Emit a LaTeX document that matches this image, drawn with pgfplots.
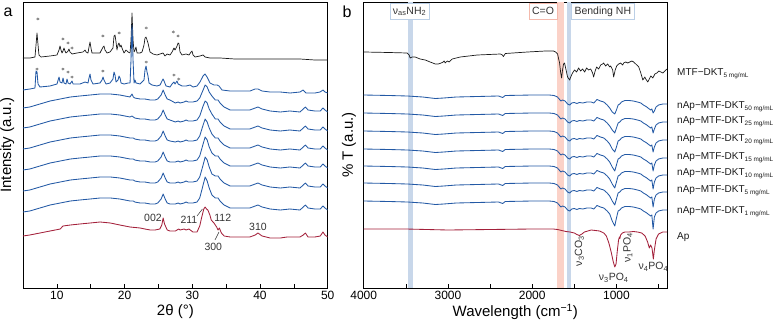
\documentclass[border=0pt]{standalone}
\usepackage{fontspec}
\setmainfont{Liberation Sans}
\usepackage{pgfplots}
\usepackage{pgfplotstable}
\pgfplotsset{compat=1.18}

\definecolor{mtfblack}{HTML}{1A1A1A}
\definecolor{nblue}{HTML}{2359A5}
\definecolor{apred}{HTML}{A3203A}
\definecolor{annot}{HTML}{333333}
\definecolor{stargray}{HTML}{7F7F7F}
\definecolor{bandblue}{HTML}{C8D7EA}
\definecolor{bandred}{HTML}{FBD2C8}
\definecolor{boxblue}{HTML}{BBCFE6}
\definecolor{boxred}{HTML}{F4B9AC}

% ---------- XRD patterns (2theta, intensity in a.u. incl. stacking offset) ----------
\pgfplotstableread{
tt I
5.00 230
6.03 230
6.77 231
6.92 243
7.07 255
7.22 243
7.36 233
7.66 231
8.99 232
10.02 233
10.32 238
10.47 242
10.61 238
10.76 235
10.91 237
11.06 240
11.20 237
11.35 235
11.65 237
11.79 239
11.94 236
12.24 234
12.98 235
13.86 236
14.16 238
14.31 236
14.60 235
14.75 241
14.90 246
15.04 240
15.19 235
15.93 235
16.37 235
16.67 239
16.82 241
16.96 242
17.11 238
17.41 235
17.85 236
18.29 240
18.44 252
18.59 253
18.74 246
18.88 238
19.03 243
19.18 245
19.33 241
19.48 243
19.62 240
19.92 235
20.21 238
20.51 236
20.81 235
20.95 248
21.10 275
21.25 248
21.40 236
21.54 238
21.69 241
21.84 235
22.28 235
22.58 236
22.87 243
23.02 250
23.17 251
23.32 248
23.46 245
23.76 236
24.20 234
24.79 233
25.24 234
25.68 235
25.97 232
26.27 234
26.71 233
27.01 236
27.30 240
27.45 238
27.75 242
27.90 245
28.04 244
28.19 236
28.49 233
29.08 234
29.52 233
29.82 236
29.96 237
30.11 233
30.41 231
31.14 232
31.59 233
31.88 231
32.62 230
34.10 230
36.30 229
38.50 229
40.70 229
43.00 229
45.90 229
48.10 228
50.00 228
}\xrdmtf

\pgfplotstableread{
tt I
5.00 198
6.03 199
6.77 200
6.92 217
7.07 216
7.22 204
7.51 201
8.99 202
10.02 204
10.32 211
10.47 206
10.76 205
10.91 210
11.06 205
11.35 204
11.50 209
11.65 205
11.94 204
12.24 207
12.39 204
13.42 204
14.16 206
14.60 205
14.75 210
14.90 214
15.04 208
15.34 204
16.37 205
16.67 208
16.82 211
16.96 208
17.26 204
17.85 205
18.29 209
18.44 216
18.59 213
18.74 206
19.03 208
19.18 212
19.33 210
19.48 205
19.92 204
20.51 205
20.81 205
20.95 228
21.10 263
21.25 228
21.40 205
21.54 208
21.69 205
22.28 204
22.87 208
23.02 218
23.17 222
23.32 216
23.46 212
23.61 205
24.05 203
24.79 202
25.24 203
25.53 207
25.68 209
25.83 207
26.12 202
26.71 201
27.01 204
27.30 206
27.45 204
27.75 207
27.90 204
28.49 202
29.08 202
29.67 203
30.11 201
30.70 202
31.14 206
31.59 212
31.88 214
32.18 211
32.62 205
33.21 203
33.66 203
33.95 202
34.39 198
35.58 197
37.05 197
38.53 197
39.27 199
39.71 199
40.30 197
41.48 196
42.96 196
44.44 195
45.92 196
46.36 198
46.80 195
48.13 195
48.87 196
49.31 198
49.60 196
50.00 195
}\xrdfifty

\pgfplotstableread{
tt c25 c20 c15 c10 c5 c1
5.0  180 160 139 118 97 76
6.0  181 161 140 119 98 77
7.5  184 164 143 122 101 80
9.0  187 167 146 125 104 83
10.5 189 169 148 127 106 85
12.0 191 171 150 129 108 87
13.4 192 172 151 130 109 88
14.9 193 173 152 131 110 89
16.4 194 174 153 132 111 90
17.9 194 174 153 132 111 90
19.3 193 173 152 131 110 89
20.8 191 171 150 129 108 87
21.1 194 172 150 129 108 87
21.3 191 171 150 129 108 87
21.5 190 170 149 128 107 86
22.3 189 169 148 127 106 85
23.0 189 169 148 127 106 85
23.8 188 168 147 126 105 84
24.5 188 168 147 126 105 84
24.9 189 169 148 127 106 85
25.4 193 173 152 131 110 89
25.7 198 178 157 136 115 94
26.0 193 173 152 131 110 89
26.3 189 169 148 127 106 85
26.7 188 168 147 126 105 84
27.5 185 166 146 126 105 84
27.9 186 167 147 127 106 85
28.2 185 166 146 126 105 84
28.8 186 167 147 127 106 85
29.1 187 168 148 128 107 86
29.4 186 167 147 127 106 85
30.1 186 167 147 127 106 85
30.7 187 168 148 128 107 86
31.1 190 172 152 132 111 90
31.6 198 182 163 144 123 103
31.9 203 187 169 151 131 111
32.2 201 185 166 148 128 107
32.5 196 179 160 141 121 100
32.9 192 174 154 135 114 93
33.4 188 169 150 132 112 90
33.8 188 169 150 132 112 90
34.1 185 166 147 129 109 87
34.7 181 162 143 125 105 83
35.6 178 159 140 122 102 80
37.0 178 159 140 122 102 80
38.5 178 159 140 122 102 80
39.3 180 161 142 124 104 82
39.7 181 162 143 125 105 83
40.3 179 160 141 123 103 81
41.5 177 158 139 121 101 79
43.0 176 157 138 120 100 78
44.4 177 158 139 121 101 79
45.9 176 157 138 120 100 78
46.4 179 160 141 123 103 81
46.7 181 162 143 125 105 83
47.1 178 159 140 122 102 80
48.1 177 158 139 121 101 79
48.9 177 158 139 121 101 79
49.3 180 161 142 124 104 82
49.6 178 159 140 122 102 80
50.0 176 157 138 120 100 78
}\xrdnap

\pgfplotstableread{
tt I
5.0 52
6.0 53
7.5 55
9.0 57
10.5 59
10.9 62
12.0 63
13.4 64
14.9 65
16.4 66
17.9 65
19.3 63
20.8 61
22.3 60
23.0 59
23.8 58
24.5 58
25.2 59
25.5 63
25.7 70
25.9 64
26.3 58
26.7 57
27.5 57
28.0 59
28.2 58
28.8 59
29.1 58
29.5 59
30.1 56
30.7 56
31.1 62
31.4 71
31.7 79
31.9 81
32.1 79
32.3 78
32.6 73
32.8 68
33.2 65
33.6 61
33.8 58
34.0 60
34.3 55
34.7 52
35.6 51
37.0 51
38.5 51
39.3 53
39.7 55
40.3 52
41.5 50
43.0 50
44.0 51
45.9 51
46.4 53
46.7 55
47.1 51
48.1 51
48.9 52
49.3 56
49.6 53
50.0 51
}\xrdap

% reflections of the organic phase (marked with asterisks)
\pgfplotstableread{
tt I
7.20 269
10.90 249
11.65 245
12.24 240
16.80 252
19.20 255
23.20 260
27.20 256
27.90 252
7.07 219
10.90 219
11.65 216
12.24 211
16.80 217
23.20 226
27.30 213
28.00 209
}\xrdstars

% ---------- FTIR spectra (wavenumber, transmittance in a.u. incl. offset) ----------
\pgfplotstableread{
w T
4000 236
3700 235.5
3485 235
3460 233
3449 230
3425 231
3390 231
3330 229
3270 228
3211 226
3150 224
3116 224
3080 225
3056 226
3045 227
3033 225
3008 227
2985 226
2949 229
2854 231
2651 233
2378 234
2354 233
2342 231.5
2318 234.5
2056 236
1842 237
1747 237
1723 236
1699 234
1675 225
1663 216
1651 210
1640 218
1628 224
1616 225
1598 218
1580 211
1556 208
1538 212
1521 215
1497 218
1473 216
1449 220
1425 217
1402 219
1378 216
1354 220
1330 218
1306 219
1283 215
1271 211
1253 217
1235 221
1211 219
1187 223
1164 224
1152 225
1128 222
1104 224
1080 221
1068 222
1045 218
1033 211
1015 218
997 222
973 224
949 225
926 223
914 225
890 226
866 225
842 226
818 227
795 226
771 224
735 221
711 215
687 208
663 211
652 209
628 206
604 210
592 212
568 210
544 214
521 215
497 217
473 216
449 215
425 217
401 219
}\irmtf

\pgfplotstableread{
w c50 c25 c20 c15 c10 c5 c1
4000 193 175 157 139 122 105 87
3700 192.5 174.5 156.5 138.5 121.5 104.5 86.5
3480 192 174 156 138 121 104 86
3300 191 173 155 137 120 103 85
3150 189.5 171.5 153.5 135.5 118.5 101.5 83.5
3050 190 172 154 136 119 102 84
2900 191 173 155 137 120 103 85
2650 191.5 173.5 155.5 137.5 120.5 103.5 85.5
2400 192 174 156 138 121 104 86
2350 190.5 172.5 154.5 136.5 119.5 102.5 84.5
2320 192.5 174.5 156.5 138.5 121.5 104.5 86.5
2000 193 175 157 139 122 105 87
1800 193 175 157 139 122 105 87
1740 192.5 174.5 156.5 138.5 121.5 104.5 86.5
1700 191 173 155 137 120 103 85
1660 187 169 151 133 116 99 81
1640 188 170 152 134 117 100 82
1610 187 169 151 133 116 99 81
1580 184 166 148 130 113 96 78
1555 183 165 147 129 112 95 77
1530 185 167 149 131 114 97 79
1500 185.5 167.5 149.5 131.5 114.5 97.5 79.5
1470 184.5 166.5 148.5 130.5 113.5 96.5 78.5
1440 185.5 167.5 149.5 131.5 114.5 97.5 79.5
1400 185 167 149 131 114 97 79
1350 186 168 150 132 115 98 80
1300 186 168 150 132 115 98 80
1270 185 167 149 131 114 97 79
1230 188.5 170.5 152.5 134.5 117.5 100.5 82.5
1190 187 169 151 133 116 99 81
1150 186 168 150 132 115 98 80
1110 183 165 147 129 112 95 77
1080 180 162 144 126 109 92 74
1050 176 158 139 121 104 87 67
1020 174 155 136 117 100 83 62
1000 178 160 141 123 106 89 70
980 183 165 147 129 112 95 77
960 184 166 148 130 113 96 78
940 186 168 150 132 115 98 80
900 187.5 169.5 151.5 133.5 116.5 99.5 81.5
850 187.5 169.5 151.5 133.5 116.5 99.5 81.5
800 187 169 151 133 116 99 81
750 186 168 150 132 115 98 80
711 185 167 149 131 114 97 79
680 183 165 147 129 112 95 77
640 181 163 145 127 110 93 75
610 179 161 143 125 108 91 73
595 178 160 142 124 107 90 72
580 179 161 143 125 108 91 73
565 175 155 136 117 99 81 59
550 177 159 141 123 106 89 71
530 181 163 145 127 110 93 75
500 183 165 147 129 112 95 77
450 184 166 148 130 113 96 78
400 184 166 148 130 113 96 78
}\irnap

\pgfplotstableread{
w T
4000 59
3500 59
3000 58
2500 58.5
2000 59
1750 59
1700 58.5
1650 57.5
1600 56.5
1550 56
1500 55
1470 53.5
1440 52.5
1410 54
1380 56
1340 57
1300 58
1250 57.5
1200 57
1150 55
1120 52
1090 45
1060 35
1040 27
1020 21
1005 24
990 37
975 48
965 51
960 49.5
950 53
930 55
900 56
850 56
800 56.5
750 56
700 55
660 52
630 46
610 40
595 43
578 40
562 29
550 38
530 49
500 54
450 56
400 56
}\irap

% absorption bands highlighted in the FTIR panel
\pgfplotstableread{
w T
3480 286
3420 286
}\bandnh
\pgfplotstableread{
w T
1702 286
1625 286
}\bandco
\pgfplotstableread{
w T
1592 286
1537 286
}\bandbend

\pgfplotsset{
  panel/.style={
    scale only axis, height=286pt, ymin=0, ymax=286, ytick=\empty,
    axis line style={line width=0.7pt},
    tick align=inside, xtick pos=left,
    major tick length=4pt, minor tick length=4pt,
    every tick/.style={black, line width=0.6pt},
    /pgf/number format/assume math mode=true,
    /pgf/number format/1000 sep={},
    ticklabel style={font=\fontsize{12}{14}\selectfont},
    label style={font=\fontsize{15}{18}\selectfont},
    xlabel style={at={(axis description cs:0.5,-0.084)}, anchor=center},
  },
  spec/.style={line width=0.85pt, line join=round},
}
\tikzset{
  note/.style={inner sep=0pt, text=annot, font=\fontsize{10.5}{12}\selectfont},
  tag/.style={draw=#1, fill=white, line width=0.6pt, inner xsep=3pt, inner ysep=2.5pt,
    text height=8pt, text depth=2.5pt, text=annot, font=\fontsize{10.5}{12}\selectfont},
}
\newcommand\sub[1]{\raisebox{-2.4pt}{\fontsize{6.4}{7}\selectfont #1}}

\begin{document}
\begin{tikzpicture}
\useasboundingbox (0pt,0pt) rectangle (781pt,322pt);

% ---------------- a: XRD ----------------
\begin{axis}[panel, at={(23pt,34pt)}, anchor=south west, width=304.7pt,
  xmin=5, xmax=50, xtick={10,20,30,40,50}, minor xtick={15,25,35,45},
  xlabel={2θ (°)}, ylabel={Intensity (a.u.)},
  ylabel style={at={(axis description cs:-0.052,0.5)}, anchor=center}]
\addplot[spec, mtfblack, line width=0.7pt] table[x=tt, y=I] {\xrdmtf};
\addplot[spec, nblue] table[x=tt, y=I] {\xrdfifty};
\addplot[spec, nblue] table[x=tt, y=c25] {\xrdnap};
\addplot[spec, nblue] table[x=tt, y=c20] {\xrdnap};
\addplot[spec, nblue] table[x=tt, y=c15] {\xrdnap};
\addplot[spec, nblue] table[x=tt, y=c10] {\xrdnap};
\addplot[spec, nblue] table[x=tt, y=c5] {\xrdnap};
\addplot[spec, nblue] table[x=tt, y=c1] {\xrdnap};
\addplot[spec, apred] table[x=tt, y=I] {\xrdap};
\addplot[only marks, mark=asterisk, mark size=1.5pt, stargray, mark options={line width=0.5pt}]
  table[x=tt, y=I] {\xrdstars};
% apatite Miller indices
\node[note] at (axis cs:24.2,70) {002};
\node[note] at (axis cs:29.5,68) {211};
\node[note] at (axis cs:34.5,70) {112};
\node[note] at (axis cs:33.1,41) {300};
\node[note] at (axis cs:39.7,61) {310};
\draw[annot, line width=0.5pt] (axis cs:30.7,72) -- (axis cs:31.5,79);
\draw[annot, line width=0.5pt] (axis cs:33.35,48) -- (axis cs:33.95,56);
\end{axis}

% ---------------- b: FTIR ----------------
\begin{axis}[panel, at={(363.7pt,34pt)}, anchor=south west, width=303.3pt,
  x dir=reverse, xmin=400, xmax=4000,
  xtick={1000,2000,3000,4000}, minor xtick={500,1500,2500,3500},
  xlabel={Wavelength (cm\textsuperscript{−1})}, ylabel={\% T (a.u.)},
  ylabel style={at={(axis description cs:-0.0485,0.5)}, anchor=center}]
\addplot[ybar interval, fill=bandblue, draw=none] table[x=w, y=T] {\bandnh};
\addplot[ybar interval, fill=bandred, draw=none] table[x=w, y=T] {\bandco};
\addplot[ybar interval, fill=bandblue, draw=none] table[x=w, y=T] {\bandbend};
\addplot[spec, mtfblack, line width=0.7pt] table[x=w, y=T] {\irmtf};
\addplot[spec, nblue] table[x=w, y=c50] {\irnap};
\addplot[spec, nblue] table[x=w, y=c25] {\irnap};
\addplot[spec, nblue] table[x=w, y=c20] {\irnap};
\addplot[spec, nblue] table[x=w, y=c15] {\irnap};
\addplot[spec, nblue] table[x=w, y=c10] {\irnap};
\addplot[spec, nblue] table[x=w, y=c5] {\irnap};
\addplot[spec, nblue] table[x=w, y=c1] {\irnap};
\addplot[spec, apred] table[x=w, y=T] {\irap};
\node[tag=boxblue, anchor=north] at (axis cs:3455,284.5) {ν\textsubscript{as}NH\textsubscript{2}};
\node[tag=boxred, anchor=north east] at (axis cs:1702,284.5) {C=O};
\node[tag=boxblue, anchor=north west] at (axis cs:1537,284.5) {Bending NH};
\node[note, rotate=90] at (axis cs:1440,37) {ν\textsubscript{3}CO\textsubscript{3}};
\node[note, rotate=90] at (axis cs:865,40) {ν\textsubscript{1}PO\textsubscript{4}};
\node[note] at (axis cs:1032,10) {ν\textsubscript{3}PO\textsubscript{4}};
\node[note] at (axis cs:562,21) {ν\textsubscript{4}PO\textsubscript{4}};
\end{axis}

% panel letters
\node[font=\fontsize{16}{18}\selectfont] at (8pt,310pt) {a};
\node[font=\fontsize{16}{18}\selectfont] at (347pt,310pt) {b};

% sample names beside the spectra
\begin{scope}[every node/.style={anchor=base west, inner sep=0pt, font=\fontsize{10}{12}\selectfont, text=mtfblack}]
\node at (677pt,247pt) {MTF−DKT\sub{5 mg/mL}};
\node at (677pt,214pt) {nAp−MTF-DKT\sub{50 mg/mL}};
\node at (677pt,199pt) {nAp−MTF-DKT\sub{25 mg/mL}};
\node at (677pt,181pt) {nAp−MTF-DKT\sub{20 mg/mL}};
\node at (677pt,163pt) {nAp−MTF-DKT\sub{15 mg/mL}};
\node at (677pt,147pt) {nAp−MTF-DKT\sub{10 mg/mL}};
\node at (677pt,130pt) {nAp−MTF-DKT\sub{5 mg/mL}};
\node at (677pt,109pt) {nAp−MTF-DKT\sub{1 mg/mL}};
\node at (677pt,83pt) {Ap};
\end{scope}
\end{tikzpicture}
\end{document}
